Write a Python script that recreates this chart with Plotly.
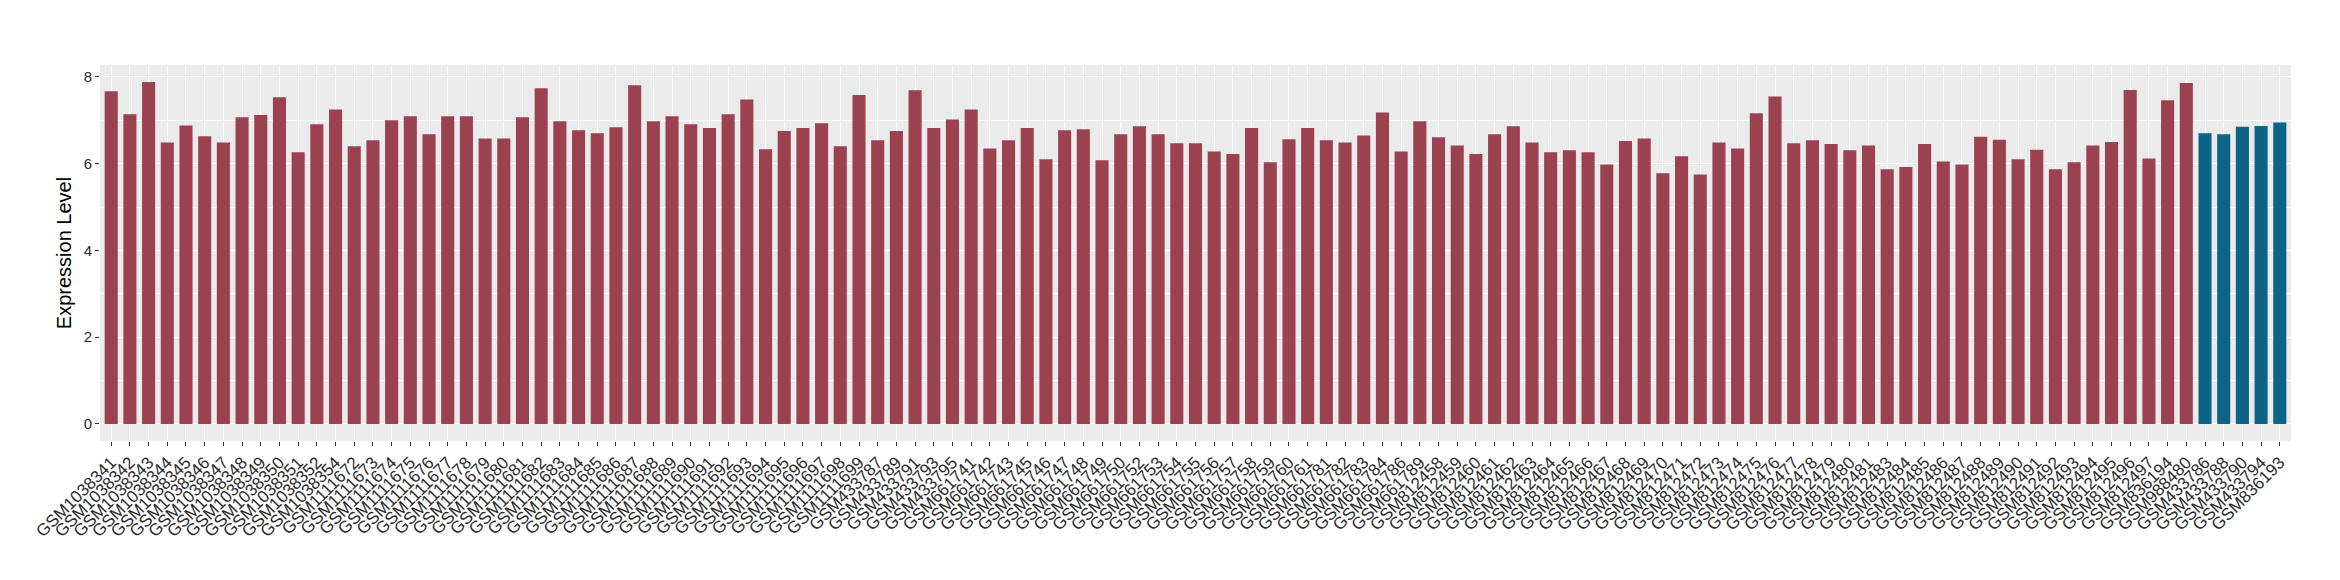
import plotly.graph_objects as go

samples = [
    "GSM1038341", "GSM1038342", "GSM1038343", "GSM1038344", "GSM1038345", "GSM1038346",
    "GSM1038347", "GSM1038348", "GSM1038349", "GSM1038350", "GSM1038351", "GSM1038352",
    "GSM1038354",
    "GSM1111672", "GSM1111673", "GSM1111674", "GSM1111675", "GSM1111676", "GSM1111677",
    "GSM1111678", "GSM1111679", "GSM1111680", "GSM1111681", "GSM1111682", "GSM1111683",
    "GSM1111684", "GSM1111685", "GSM1111686", "GSM1111687", "GSM1111688", "GSM1111689",
    "GSM1111690", "GSM1111691", "GSM1111692", "GSM1111693", "GSM1111694", "GSM1111695",
    "GSM1111696", "GSM1111697", "GSM1111698", "GSM1111699",
    "GSM433787", "GSM433789", "GSM433791", "GSM433793", "GSM433795",
    "GSM661741", "GSM661742", "GSM661743", "GSM661745", "GSM661746", "GSM661747",
    "GSM661748", "GSM661749", "GSM661750", "GSM661752", "GSM661753", "GSM661754",
    "GSM661755", "GSM661756", "GSM661757", "GSM661758", "GSM661759", "GSM661760",
    "GSM661761", "GSM661781", "GSM661782", "GSM661783", "GSM661784", "GSM661786",
    "GSM661789",
    "GSM812458", "GSM812459", "GSM812460", "GSM812461", "GSM812462", "GSM812463",
    "GSM812464", "GSM812465", "GSM812466", "GSM812467", "GSM812468", "GSM812469",
    "GSM812470", "GSM812471", "GSM812472", "GSM812473", "GSM812474", "GSM812475",
    "GSM812476", "GSM812477", "GSM812478", "GSM812479", "GSM812480", "GSM812481",
    "GSM812483", "GSM812484", "GSM812485", "GSM812486", "GSM812487", "GSM812488",
    "GSM812489", "GSM812490", "GSM812491", "GSM812492", "GSM812493", "GSM812494",
    "GSM812495", "GSM812496", "GSM812497",
    "GSM836194", "GSM988480",
    "GSM433786", "GSM433788", "GSM433790", "GSM433794", "GSM836193",
]

expression = [
    7.67, 7.14, 7.88, 6.49, 6.88, 6.63, 6.49, 7.07, 7.12, 7.53, 6.26, 6.91, 7.25,
    6.40, 6.54, 7.00, 7.09, 6.68, 7.09, 7.09, 6.58, 6.58, 7.07, 7.74, 6.98, 6.77,
    6.70, 6.84, 7.81, 6.98, 7.09, 6.91, 6.82, 7.14, 7.48, 6.33, 6.75, 6.82, 6.93,
    6.40, 7.58,
    6.54, 6.75, 7.69, 6.82, 7.02,
    7.25, 6.35, 6.54, 6.82, 6.10, 6.77, 6.79, 6.08, 6.68, 6.86, 6.68, 6.47, 6.47,
    6.28, 6.22, 6.82, 6.03, 6.56, 6.82, 6.54, 6.49, 6.65, 7.18, 6.28, 6.98,
    6.61, 6.42, 6.22, 6.68, 6.86, 6.49, 6.26, 6.31, 6.26, 5.98, 6.52, 6.58, 5.78,
    6.17, 5.75, 6.49, 6.35, 7.16, 7.55, 6.47, 6.54, 6.45, 6.31, 6.42, 5.87, 5.92,
    6.45, 6.05, 5.98, 6.62, 6.55, 6.10, 6.32, 5.87, 6.03, 6.42, 6.50, 7.70, 6.12,
    7.46, 7.86,
    6.70, 6.68, 6.85, 6.87, 6.95,
]

groups = ["A"] * 112 + ["B"] * 5
group_colors = {"A": "#9B4150", "B": "#0C6587"}

y_ticks = [0, 2, 4, 6, 8]
y_minor = [1, 3, 5, 7]

colors = [group_colors[g] for g in groups]
FONT = "Liberation Sans, Arial, Helvetica, sans-serif"

fig = go.Figure()
fig.add_trace(go.Bar(
    x=samples,
    y=expression,
    width=0.7,
    marker=dict(color=colors, line=dict(width=0)),
    showlegend=False,
))

fig.update_layout(
    width=2340,
    height=580,
    margin=dict(l=92, r=57, t=57, b=147),
    paper_bgcolor="white",
    plot_bgcolor="#EBEBEB",
    font=dict(family=FONT, color="#1a1a1a"),
)

fig.update_xaxes(
    type="category",
    range=[-0.6, len(samples) - 0.4],
    tickmode="array",
    tickvals=samples,
    ticktext=samples,
    tickangle=-45,
    tickfont=dict(family=FONT, size=17, color="#2b2b2b"),
    ticks="outside",
    ticklen=4,
    tickwidth=1,
    tickcolor="#333333",
    showgrid=True,
    gridcolor="white",
    gridwidth=1.1,
    showline=False,
    zeroline=False,
    automargin=False,
)

fig.update_yaxes(
    range=[-0.394, 8.274],
    tickmode="array",
    tickvals=y_ticks,
    ticktext=[str(v) for v in y_ticks],
    tickfont=dict(family=FONT, size=15, color="#2b2b2b"),
    ticks="outside",
    ticklen=4,
    tickwidth=1,
    tickcolor="#333333",
    showgrid=True,
    gridcolor="white",
    gridwidth=1.1,
    minor=dict(tickvals=y_minor, showgrid=True, gridcolor="white", gridwidth=0.5, ticks=""),
    zeroline=False,
    showline=False,
    title=dict(text="Expression Level", font=dict(family=FONT, size=20, color="#000000"), standoff=6),
    automargin=False,
)

fig.write_html("out.html")
